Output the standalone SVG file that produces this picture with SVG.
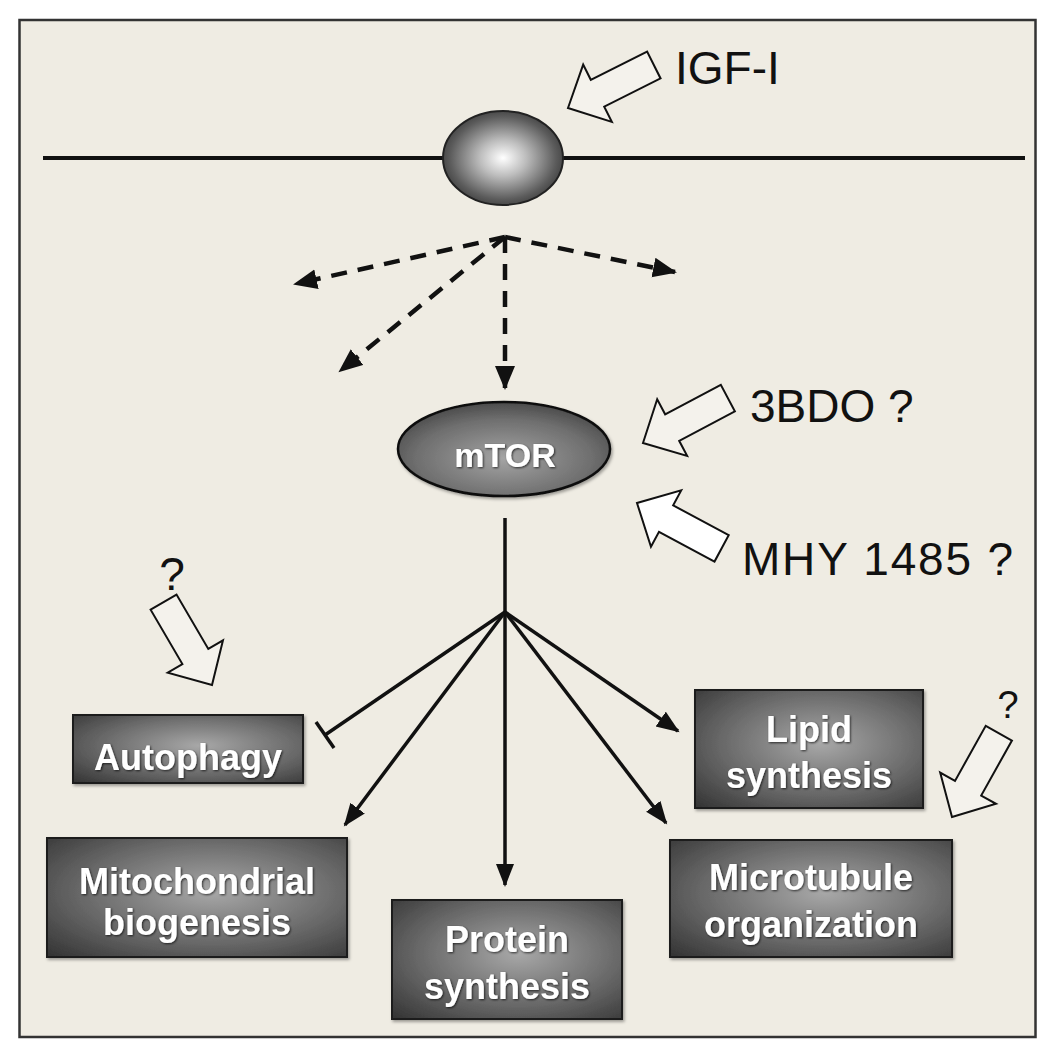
<svg xmlns="http://www.w3.org/2000/svg" xmlns:xlink="http://www.w3.org/1999/xlink" width="1049" height="1050" viewBox="0 0 1049 1050">
<defs>
<style>
.frame{fill:#efece3;stroke:#333;stroke-width:2.5}
.membrane{stroke:#111;stroke-width:4;fill:none}
.dash{stroke:#111;stroke-width:4.5;stroke-dasharray:16 11;fill:none}
.solid{stroke:#111;stroke-width:3.5;fill:none}
.box{fill:url(#boxGrad);stroke:#1a1a1a;stroke-width:2;filter:url(#shadow)}
.btxt{font-family:"Liberation Sans",Arial,sans-serif;font-weight:bold;font-size:36px;fill:#fff;text-anchor:middle;filter:url(#tshadow)}
.lbl{font-family:"Liberation Sans",Arial,sans-serif;font-size:46px;fill:#111}
.q{font-family:"Liberation Sans",Arial,sans-serif;fill:#111;text-anchor:middle}
.harrow{stroke:#111;stroke-width:2;stroke-linejoin:miter}
</style>
<radialGradient id="boxGrad" cx="0.55" cy="0.45" r="0.75">
<stop offset="0" stop-color="#a8a8a8"/>
<stop offset="0.6" stop-color="#666"/>
<stop offset="1" stop-color="#363636"/>
</radialGradient>
<radialGradient id="recGrad" cx="0.5" cy="0.5" r="0.55">
<stop offset="0" stop-color="#ffffff"/>
<stop offset="0.35" stop-color="#bdbdbd"/>
<stop offset="0.8" stop-color="#5c5c5c"/>
<stop offset="1" stop-color="#3a3a3a"/>
</radialGradient>
<radialGradient id="torGrad" cx="0.5" cy="0.6" r="0.6">
<stop offset="0" stop-color="#a4a4a4"/>
<stop offset="0.7" stop-color="#6e6e6e"/>
<stop offset="1" stop-color="#4a4a4a"/>
</radialGradient>
<filter id="shadow" x="-10%" y="-10%" width="125%" height="130%">
<feDropShadow dx="1.5" dy="2" stdDeviation="1.5" flood-color="#000" flood-opacity="0.35"/>
</filter>
<filter id="tshadow" x="-10%" y="-20%" width="120%" height="140%">
<feDropShadow dx="1" dy="1" stdDeviation="1.2" flood-color="#000" flood-opacity="0.7"/>
</filter>
<marker id="ah" markerUnits="userSpaceOnUse" markerWidth="24" markerHeight="20" refX="21" refY="9" orient="auto">
<path d="M0,0 L23,9 L0,18 Z" fill="#111"/>
</marker>
<marker id="ahd" markerUnits="userSpaceOnUse" markerWidth="26" markerHeight="22" refX="22" refY="10" orient="auto">
<path d="M0,0 L24,10 L0,20 Z" fill="#111"/>
</marker>
<path id="hollow" d="M0,0 L-33,-32 L-33,-15 L-96,-15 L-96,15 L-33,15 L-33,32 Z"/>
</defs>

<rect class="frame" x="19.5" y="20" width="1016" height="1017"/>

<g id="membrane">
<line class="membrane" x1="43" y1="158" x2="1025" y2="158"/>
</g>

<g id="connectors">
<line class="dash" x1="505" y1="237" x2="295" y2="284" marker-end="url(#ahd)"/>
<line class="dash" x1="505" y1="237" x2="340" y2="371" marker-end="url(#ahd)"/>
<line class="dash" x1="505" y1="237" x2="505" y2="388" marker-end="url(#ahd)"/>
<line class="dash" x1="505" y1="237" x2="675" y2="272" marker-end="url(#ahd)"/>
<line class="solid" x1="505" y1="518" x2="505" y2="885" marker-end="url(#ah)"/>
<line class="solid" x1="505" y1="612" x2="325" y2="735"/>
<line class="solid" x1="316" y1="722" x2="334" y2="748"/>
<line class="solid" x1="505" y1="612" x2="345" y2="825" marker-end="url(#ah)"/>
<line class="solid" x1="505" y1="612" x2="678" y2="731" marker-end="url(#ah)"/>
<line class="solid" x1="505" y1="612" x2="666" y2="823" marker-end="url(#ah)"/>
<use xlink:href="#hollow" class="harrow" fill="#f4f2ec" transform="translate(568,108) rotate(153.4)"/>
<use xlink:href="#hollow" class="harrow" fill="#f4f2ec" transform="translate(643,443) rotate(152.1)"/>
<use xlink:href="#hollow" class="harrow" fill="#ffffff" transform="translate(637,503) rotate(208.2)"/>
<use xlink:href="#hollow" class="harrow" fill="#f4f2ec" transform="translate(212,685) rotate(59.7)"/>
<use xlink:href="#hollow" class="harrow" fill="#f4f2ec" transform="translate(952,817) rotate(119.2)"/>
</g>

<g id="receptor">
<ellipse cx="503" cy="158" rx="60" ry="47" fill="url(#recGrad)" stroke="#222" stroke-width="2"/>
</g>

<g id="igf1">
<text class="lbl" x="675" y="84">IGF-I</text>
</g>

<g id="mtor">
<ellipse cx="504" cy="449" rx="106" ry="47" fill="url(#torGrad)" stroke="#111" stroke-width="2.5" filter="url(#shadow)"/>
<text x="505" y="467" font-family="Liberation Sans, Arial, sans-serif" font-weight="bold" font-size="34" fill="#fff" text-anchor="middle" filter="url(#tshadow)">mTOR</text>
</g>

<g id="bdo">
<text class="lbl" x="750" y="422">3BDO ?</text>
</g>

<g id="mhy">
<text class="lbl" x="742" y="575" textLength="271" lengthAdjust="spacing">MHY 1485 ?</text>
</g>

<g id="q-autophagy">
<text class="q" x="172" y="590" font-size="46">?</text>
</g>

<g id="q-lipid">
<text class="q" x="1008" y="718" font-size="38">?</text>
</g>

<g id="autophagy">
<rect class="box" x="73" y="715" width="230" height="68"/>
<text class="btxt" x="188" y="770">Autophagy</text>
</g>

<g id="mitochondrial">
<rect class="box" x="47" y="838" width="300" height="119"/>
<text class="btxt" x="197" y="894">Mitochondrial</text>
<text class="btxt" x="197" y="935">biogenesis</text>
</g>

<g id="protein">
<rect class="box" x="392" y="900" width="230" height="119"/>
<text class="btxt" x="507" y="952">Protein</text>
<text class="btxt" x="507" y="999">synthesis</text>
</g>

<g id="lipid">
<rect class="box" x="695" y="690" width="228" height="118"/>
<text class="btxt" x="809" y="742">Lipid</text>
<text class="btxt" x="809" y="788">synthesis</text>
</g>

<g id="microtubule">
<rect class="box" x="670" y="840" width="282" height="117"/>
<text class="btxt" x="811" y="890">Microtubule</text>
<text class="btxt" x="811" y="937">organization</text>
</g>
</svg>
